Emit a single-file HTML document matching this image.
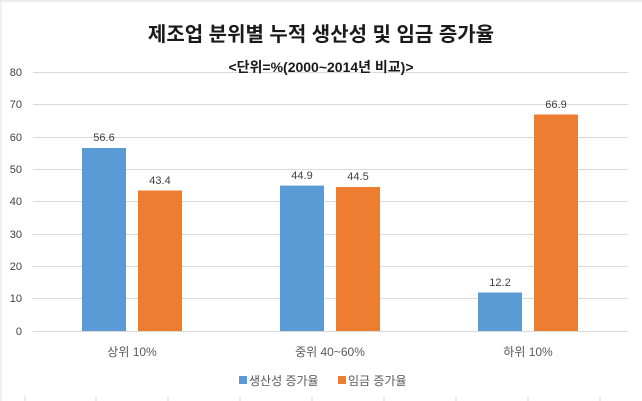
<!DOCTYPE html>
<html><head><meta charset="utf-8"><style>
body{margin:0;background:#fff;}
svg{display:block;font-family:"Liberation Sans","Noto Sans CJK KR",sans-serif;}
</style></head><body>
<svg width="642" height="401" viewBox="0 0 642 401" xmlns="http://www.w3.org/2000/svg">
<rect width="642" height="401" fill="#fff"/>
<line x1="0" y1="1" x2="642" y2="1" stroke="#d9d9d9"/>
<line x1="1" y1="0" x2="1" y2="401" stroke="#e0e0e0"/>
<g stroke="#d9d9d9">
<line x1="33" y1="72.5" x2="628" y2="72.5"/>
<line x1="33" y1="104.5" x2="628" y2="104.5"/>
<line x1="33" y1="137.5" x2="628" y2="137.5"/>
<line x1="33" y1="169.5" x2="628" y2="169.5"/>
<line x1="33" y1="201.5" x2="628" y2="201.5"/>
<line x1="33" y1="234.5" x2="628" y2="234.5"/>
<line x1="33" y1="266.5" x2="628" y2="266.5"/>
<line x1="33" y1="298.5" x2="628" y2="298.5"/>
<line x1="33" y1="331.5" x2="628" y2="331.5"/>
</g>
<g fill="#404040" font-size="11" text-anchor="end">
<text x="22" y="76">80</text><text x="22" y="108">70</text><text x="22" y="141">60</text>
<text x="22" y="173">50</text><text x="22" y="205">40</text><text x="22" y="238">30</text>
<text x="22" y="270">20</text><text x="22" y="302">10</text><text x="22" y="335">0</text>
</g>
<g fill="#5b9bd5">
<rect x="82" y="148" width="44" height="183"/>
<rect x="280" y="185.6" width="44" height="145.4"/>
<rect x="478" y="292.5" width="44" height="38.5"/>
</g>
<g fill="#ed7d31">
<rect x="138" y="190.5" width="44" height="140.5"/>
<rect x="336" y="187" width="44" height="144"/>
<rect x="534" y="114.5" width="44" height="216.5"/>
</g>
<g fill="#404040" font-size="11" text-anchor="middle">
<text x="104" y="141">56.6</text><text x="160" y="184">43.4</text>
<text x="302" y="179">44.9</text><text x="358" y="180">44.5</text>
<text x="500" y="286">12.2</text><text x="556" y="108">66.9</text>
</g>
<g fill="#595959" font-size="12" text-anchor="middle">
<text x="132" y="356">상위 10%</text>
<text x="330" y="356">중위 40~60%</text>
<text x="528" y="356">하위 10%</text>
</g>
<text x="321" y="41" font-size="20" font-weight="bold" fill="#1a1a1a" text-anchor="middle">제조업 분위별 누적 생산성 및 임금 증가율</text>
<text x="321" y="72" font-size="14" font-weight="bold" fill="#1a1a1a" text-anchor="middle">&lt;단위=%(2000~2014년 비교)&gt;</text>
<rect x="239" y="376" width="8" height="8" fill="#5b9bd5"/>
<text x="249" y="385" font-size="12" fill="#595959">생산성 증가율</text>
<rect x="338" y="376" width="8" height="8" fill="#ed7d31"/>
<text x="348" y="385" font-size="12" fill="#595959">임금 증가율</text>
<g stroke="#d9d9d9">
<line x1="25" y1="396" x2="25" y2="401"/><line x1="96" y1="396" x2="96" y2="401"/>
<line x1="168" y1="396" x2="168" y2="401"/><line x1="240" y1="396" x2="240" y2="401"/>
<line x1="312" y1="396" x2="312" y2="401"/><line x1="384" y1="396" x2="384" y2="401"/>
<line x1="456" y1="396" x2="456" y2="401"/><line x1="528" y1="396" x2="528" y2="401"/>
<line x1="600" y1="396" x2="600" y2="401"/>
</g>
</svg>
</body></html>
